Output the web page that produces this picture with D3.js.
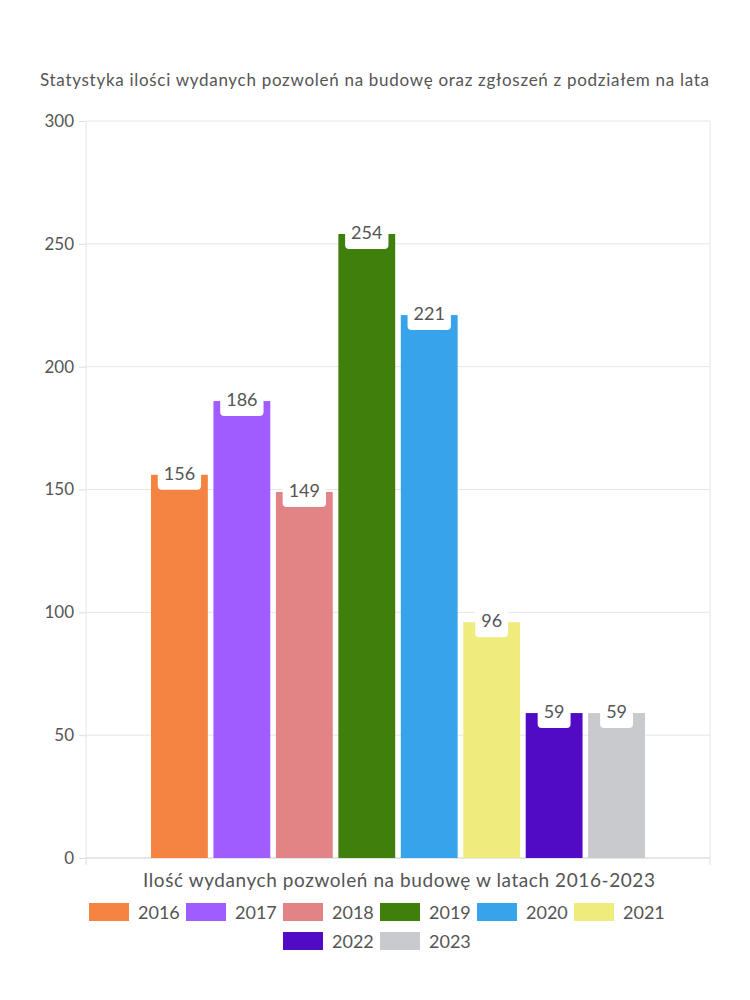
<!DOCTYPE html>
<html><head><meta charset="utf-8">
<script src="https://cdn.jsdelivr.net/npm/d3@7"></script>
<style>body{margin:0;background:#fff;} text{font-family:Lato, "Noto Sans", sans-serif;}</style>
</head><body>
<svg id="c" width="750" height="1000"></svg>
<script>
const categories = ["2016","2017","2018","2019","2020","2021","2022","2023"];
const values = [156,186,149,254,221,96,59,59];
const colors = ["#f58442","#a05cff","#e28485","#3f7f0c","#37a3eb","#f0eb7d","#510bc4","#c9cacd"];
const yTicks = [0,50,100,150,200,250,300];
const title = "Statystyka ilości wydanych pozwoleń na budowę oraz zgłoszeń z podziałem na lata";
const xTitle = "Ilość wydanych pozwoleń na budowę w latach 2016-2023";

const svg = d3.select("#c");
const L=86, R=710, T=121, B=858;
const y = d3.scaleLinear().domain([0,300]).range([B,T]);
const x = d3.scaleBand().domain(categories).range([151,645]).paddingInner(0.09);
const txt="#555";

svg.append("text").attr("x",374.5).attr("y",86).attr("text-anchor","middle")
  .attr("font-size",17).attr("fill",txt).attr("textLength",669).attr("lengthAdjust","spacing").text(title);

// grid
svg.append("g").selectAll("line").data(yTicks.filter(d=>d>0)).join("line")
  .attr("x1",L).attr("x2",R).attr("y1",d=>y(d)).attr("y2",d=>y(d))
  .attr("stroke","#e6e6e6");
svg.append("line").attr("x1",R).attr("x2",R).attr("y1",T).attr("y2",B).attr("stroke","#e6e6e6");
svg.append("line").attr("x1",L).attr("x2",L).attr("y1",T).attr("y2",B).attr("stroke","#e6e6e6");

// y axis
const ya = svg.append("g").attr("transform",`translate(${L},0)`)
  .call(d3.axisLeft(y).tickValues(yTicks).tickSize(7).tickPadding(5));
ya.select(".domain").remove();
ya.selectAll(".tick line").attr("stroke","#ddd");
ya.selectAll(".tick text").attr("font-size",17).attr("fill",txt).attr("font-family","Lato");

// bottom axis
svg.append("line").attr("x1",L).attr("x2",R).attr("y1",B).attr("y2",B).attr("stroke","#ccc");
[L,R].forEach(v=>svg.append("line").attr("x1",v).attr("x2",v).attr("y1",B).attr("y2",B+7).attr("stroke","#ddd"));

// bars
svg.append("g").selectAll("rect").data(values).join("rect")
  .attr("x",(d,i)=>x(categories[i])).attr("width",x.bandwidth())
  .attr("y",d=>y(d)).attr("height",d=>B-y(d))
  .attr("fill",(d,i)=>colors[i]);

// labels
const lg = svg.append("g");
values.forEach((v,i)=>{
  const cx = x(categories[i])+x.bandwidth()/2;
  const g = lg.append("g");
  const t = g.append("text").attr("x",cx).attr("y",y(v)+5).attr("text-anchor","middle")
    .attr("font-size",18).attr("fill",txt).text(v);
  const w = t.node().getComputedTextLength()+12;
  g.insert("rect","text").attr("x",cx-w/2).attr("y",y(v)-18).attr("width",w).attr("height",33)
    .attr("rx",4).attr("fill","#fff");
});

svg.append("text").attr("x",399).attr("y",887).attr("text-anchor","middle")
  .attr("font-size",19).attr("fill",txt).attr("textLength",512).attr("lengthAdjust","spacing").text(xTitle);

// legend
const rows=[categories.slice(0,6),categories.slice(6)];
const itemW = 97;
rows.forEach((row,ri)=>{
  const g = svg.append("g");
  row.forEach((c,k)=>{
    const i=categories.indexOf(c);
    const xx=k*itemW;
    g.append("rect").attr("x",xx).attr("y",-9).attr("width",40).attr("height",18).attr("fill",colors[i]);
    g.append("text").attr("x",xx+49).attr("y",6.5).attr("font-size",18).attr("fill",txt).text(c);
  });
  const w = row.length*itemW-12;
  g.attr("transform",`translate(${375-w/2-1},${912+ri*29})`);
});
</script>
</body></html>
